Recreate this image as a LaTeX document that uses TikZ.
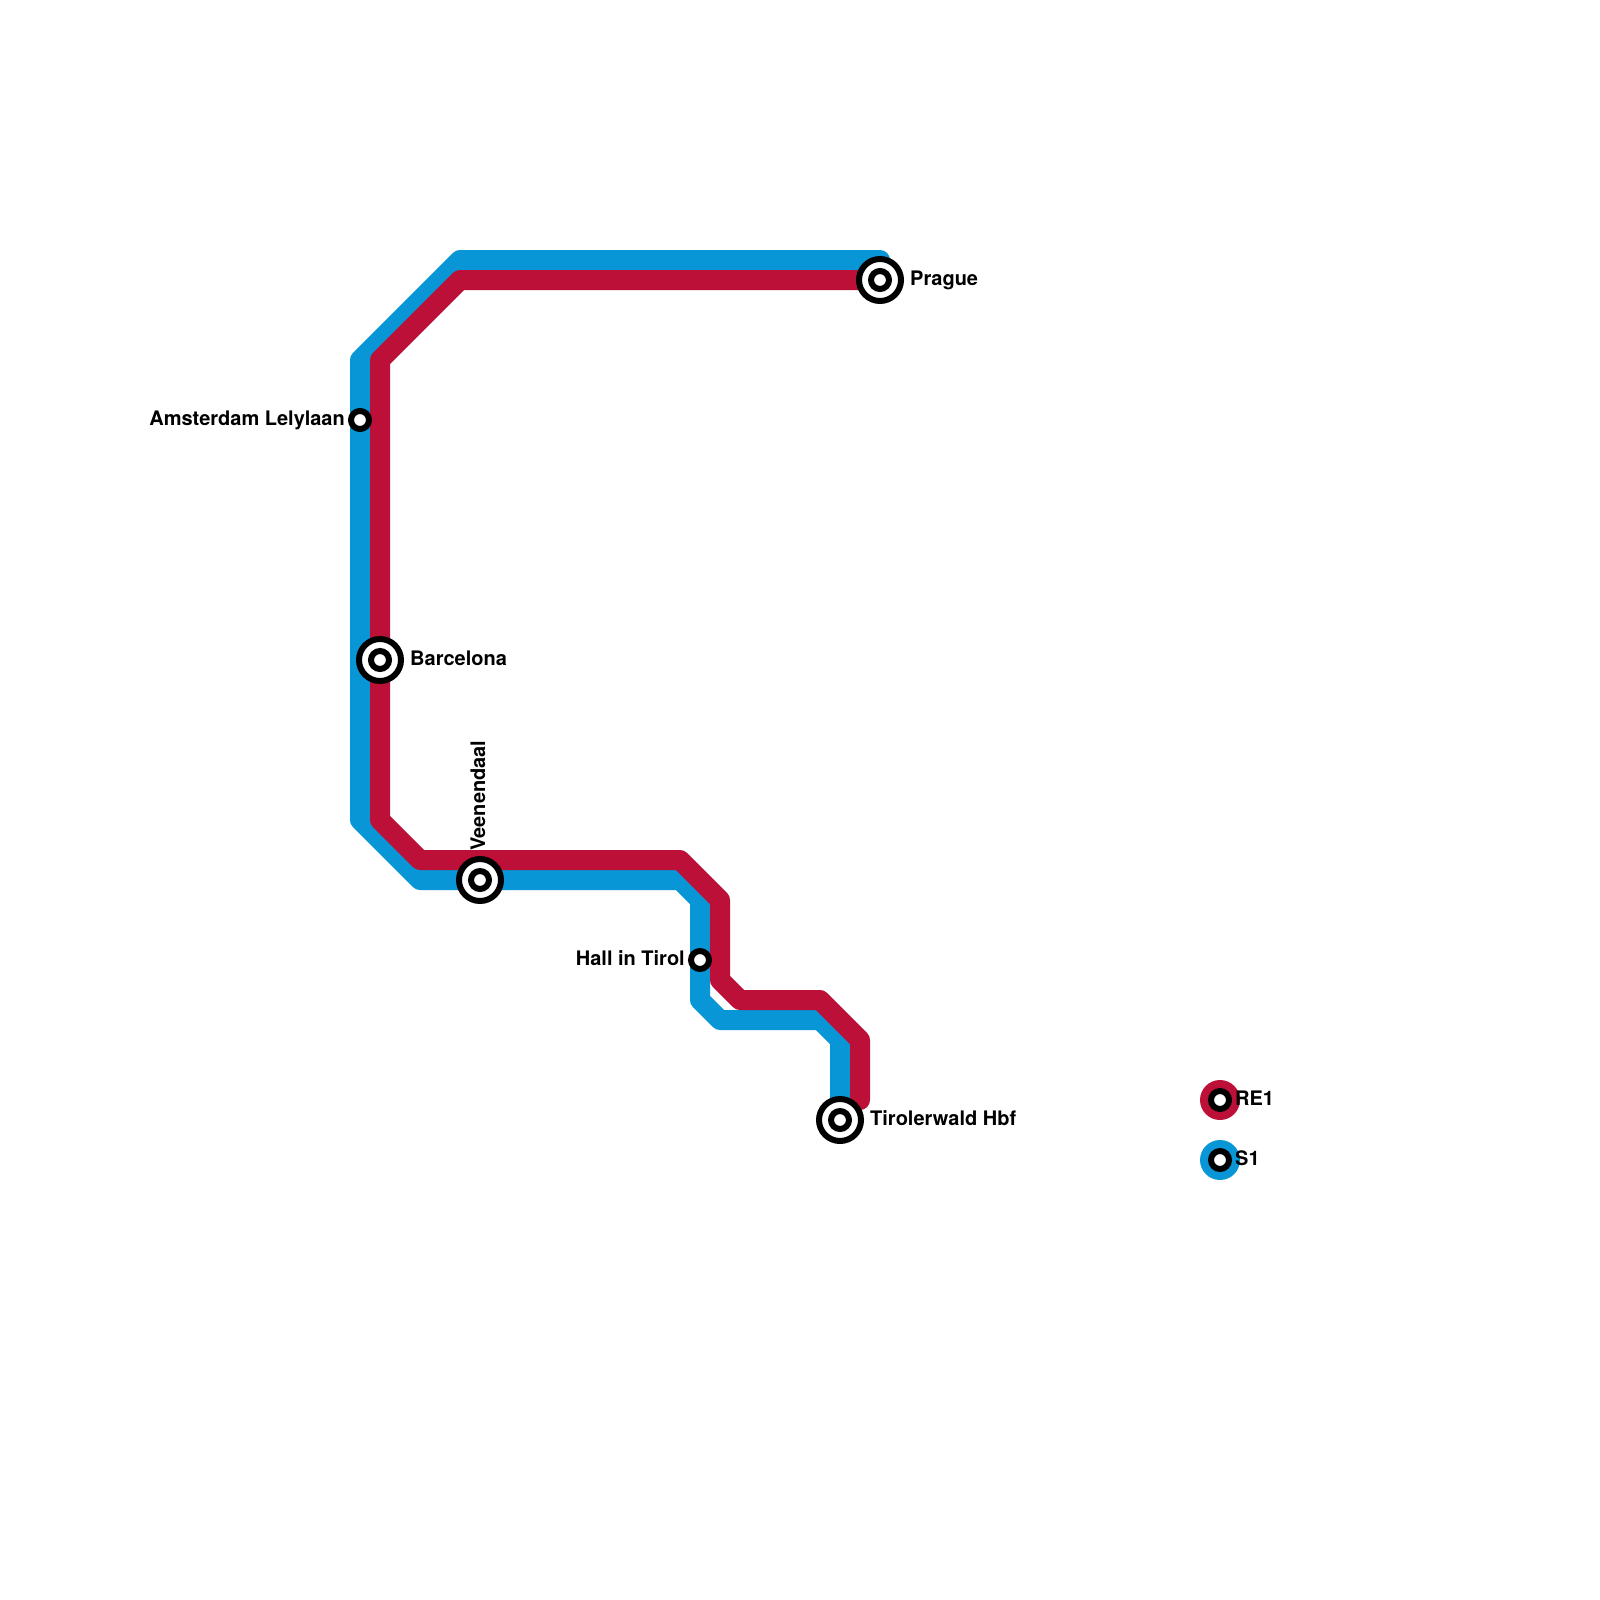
\documentclass[tikz,border=0pt]{standalone}
\usepackage{fontspec}
\setmainfont{TeX Gyre Heros}
\definecolor{lineblue}{HTML}{0896D7}
\definecolor{linered}{HTML}{BD1038}
\tikzset{
  x=1pt,y=-1pt,
  metro/.style={line width=20pt,line join=round,line cap=round},
  smallstn/.style={circle,draw=black,fill=white,line width=6pt,minimum size=18pt,inner sep=0pt,outer sep=0pt},
  bigstn/.style={circle,draw=black,fill=white,line width=6pt,minimum size=42pt,inner sep=0pt,outer sep=0pt},
  legenddisc/.style={circle,minimum size=40pt,inner sep=0pt,outer sep=0pt},
  lbl/.style={font=\fontsize{20}{22}\selectfont\bfseries,inner sep=0pt,text=black},
}
\begin{document}
\begin{tikzpicture}
\useasboundingbox (0,0) rectangle (1600,1600);
\fill[white] (0,0) rectangle (1600,1600);
% stations positions
\coordinate (prague) at (880,280);
\coordinate (tirol) at (840,1120);
% blue line
\coordinate (b1) at (880,260);
\coordinate (b2) at (460,260);
\coordinate (b3) at (360,360);
\coordinate (b4) at (360,820);
\coordinate (b5) at (420,880);
\coordinate (b6) at (680,880);
\coordinate (b7) at (700,900);
\coordinate (b8) at (700,1000);
\coordinate (b9) at (720,1020);
\coordinate (b10) at (820,1020);
\coordinate (b11) at (840,1040);
\draw[metro,lineblue] (b1)--(b2)--(b3)--(b4)--(b5)--(b6)--(b7)--(b8)--(b9)--(b10)--(b11)--(tirol);
% red line
\coordinate (r2) at (460,280);
\coordinate (r3) at (380,360);
\coordinate (r4) at (380,820);
\coordinate (r5) at (420,860);
\coordinate (r6) at (680,860);
\coordinate (r7) at (720,900);
\coordinate (r8) at (720,980);
\coordinate (r9) at (740,1000);
\coordinate (r10) at (820,1000);
\coordinate (r11) at (860,1040);
\coordinate (r12) at (860,1100);
\draw[metro,linered] (prague)--(r2)--(r3)--(r4)--(r5)--(r6)--(r7)--(r8)--(r9)--(r10)--(r11)--(r12);
% interchange stations
\newcommand{\bigstation}[2]{%
  \node[bigstn] (#1o) at (#2) {};
  \node[smallstn] (#1i) at (#2) {};}
\bigstation{pr}{prague}
\bigstation{ba}{380,660}
\bigstation{ve}{480,880}
\bigstation{ti}{tirol}
\node[smallstn] (am) at (360,420) {};
\node[smallstn] (ha) at (700,960) {};
% legend
\node[legenddisc,fill=linered] (lr) at (1220,1100) {};
\node[smallstn] (lri) at (1220,1100) {};
\node[legenddisc,fill=lineblue] (lb) at (1220,1160) {};
\node[smallstn] (lbi) at (1220,1160) {};
% labels
\node[lbl,anchor=base west] (tpr) at (910,285) {Prague};
\node[lbl,anchor=base west] (tba) at (410,665) {Barcelona};
\node[lbl,anchor=base west] (tti) at (870,1125) {Tirolerwald Hbf};
\node[lbl,anchor=base east] (tam) at (345,425) {Amsterdam Lelylaan};
\node[lbl,anchor=base east] (tha) at (685,965) {Hall in Tirol};
\node[lbl,anchor=base west,rotate=90] (tve) at (485,851) {Veenendaal};
\node[lbl,anchor=base west] (tre) at (1235,1105) {RE1};
\node[lbl,anchor=base west] (ts) at (1235,1165) {S1};
\end{tikzpicture}
\end{document}
